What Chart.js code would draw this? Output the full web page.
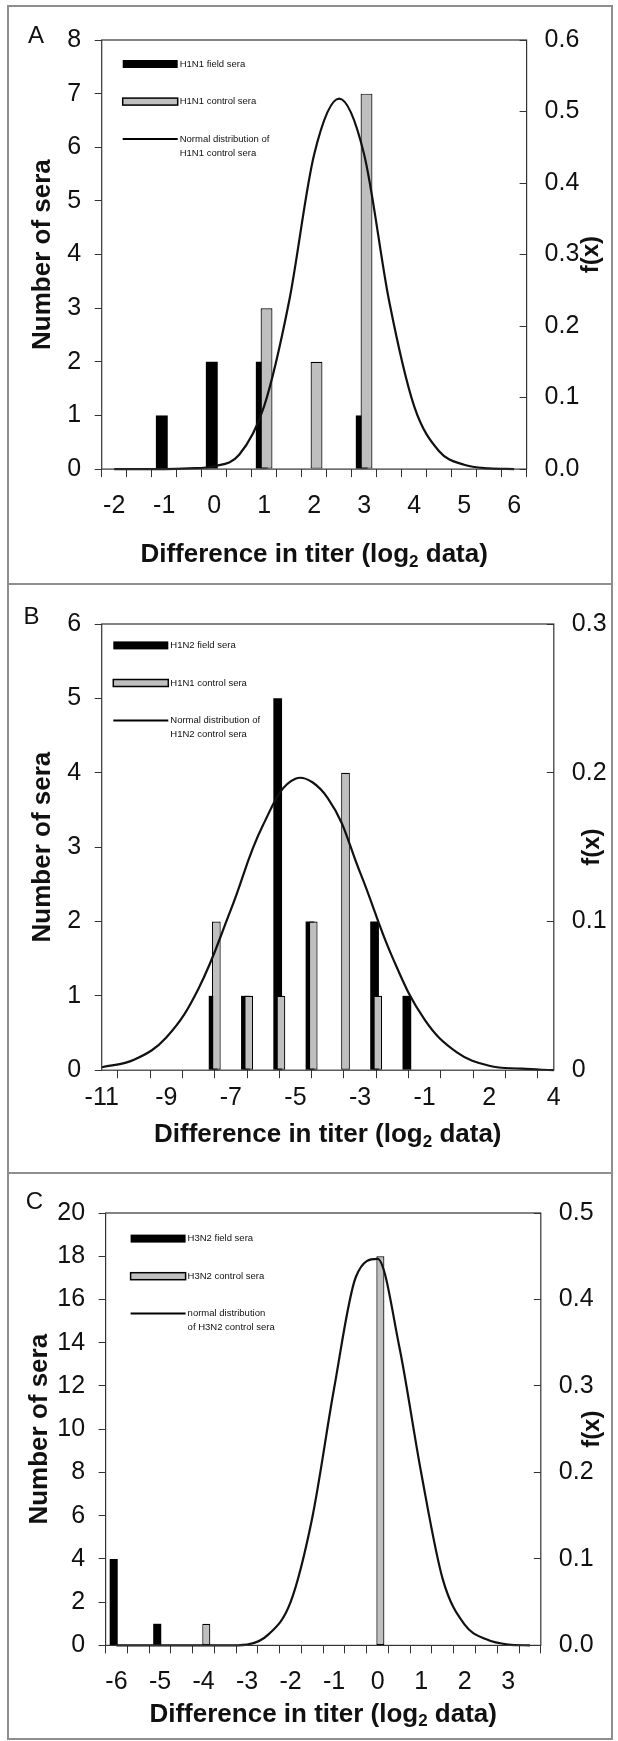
<!DOCTYPE html>
<html>
<head>
<meta charset="utf-8">
<title>Difference in titer (log2 data)</title>
<script src="https://cdn.jsdelivr.net/npm/chart.js@4.4.1/dist/chart.umd.min.js"></script>
<style>
  html, body { margin: 0; padding: 0; background: #fff; }
  #page { position: relative; width: 618px; height: 1741px; overflow: hidden; }
  .panel { position: absolute; left: 0; width: 618px; }
  .rule { position: absolute; background: #8e8e8e; }
</style>
</head>
<body>
<div id="page">
  <div class="panel" style="top:0;height:584px"><canvas id="chartA"></canvas></div>
  <div class="panel" style="top:584px;height:589px"><canvas id="chartB"></canvas></div>
  <div class="panel" style="top:1173px;height:568px"><canvas id="chartC"></canvas></div>
  <div class="rule" style="left:7px;top:5px;width:2px;height:1735px"></div>
  <div class="rule" style="left:611px;top:5px;width:2px;height:1735px"></div>
  <div class="rule" style="left:7px;top:5px;width:606px;height:2px"></div>
  <div class="rule" style="left:7px;top:583px;width:606px;height:2px"></div>
  <div class="rule" style="left:7px;top:1172px;width:606px;height:2px"></div>
  <div class="rule" style="left:7px;top:1738px;width:606px;height:2px"></div>
</div>
<script>
const FONT = '"Liberation Sans", Arial, sans-serif';
Chart.defaults.font.family = FONT;
Chart.defaults.color = '#111';
Chart.defaults.animation = false;

// Panel A - H1N1
const titerA = ['-2','-1.5','-1','-0.5','0','0.5','1','1.5','2','2.5','3','3.5','4','4.5','5','5.5','6'];
const fieldA   = [0, 0, 1, 0, 2, 0, 2, 0, 0, 0, 1, 0, 0, 0, 0, 0, 0];
const controlA = [0, 0, 0, 0, 0, 0, 3, 0, 2, 0, 7, 0, 0, 0, 0, 0, 0];
const normalA  = [0, 0, 0, 0.001, 0.004, 0.02, 0.088, 0.235, 0.44, 0.518, 0.44, 0.235, 0.088, 0.025, 0.006, 0.001, 0];
const legendA  = ['H1N1 field sera', 'H1N1 control sera', ['Normal distribution of', 'H1N1 control sera']];

// Panel B - H1N2: curve on the tick marks, bars in the bins between them
const titerB   = ['-11','-10','-9','-8','-7','-6','-5','-4','-3','-2','-1','1','2','3','4'];
const normalB  = [0.002, 0.007, 0.022, 0.055, 0.108, 0.165, 0.196, 0.183, 0.133, 0.076, 0.034, 0.012, 0.003, 0.001, 0];
const fieldB   = [0, 0, 0, 1, 1, 5, 2, 0, 2, 1, 0, 0, 0, 0];
const controlB = [0, 0, 0, 2, 1, 1, 2, 4, 1, 0, 0, 0, 0, 0];
const legendB  = ['H1N2 field sera', 'H1N1 control sera', ['Normal distribution of', 'H1N2 control sera']];

// Panel C - H3N2
const titerC   = ['-6','-5.5','-5','-4.5','-4','-3.5','-3','-2.5','-2','-1.5','-1','-0.5','0','0.5','1','1.5','2','2.5','3','3.5'];
const fieldC   = [4, 0, 1, 0, 0, 0, 0, 0, 0, 0, 0, 0, 0, 0, 0, 0, 0, 0, 0, 0];
const controlC = [0, 0, 0, 0, 1, 0, 0, 0, 0, 0, 0, 0, 18, 0, 0, 0, 0, 0, 0, 0];
const normalC  = [0, 0, 0, 0, 0, 0, 0.001, 0.013, 0.05, 0.148, 0.297, 0.426, 0.447, 0.345, 0.2, 0.076, 0.024, 0.007, 0.001, 0];
const legendC  = ['H3N2 field sera', 'H3N2 control sera', ['normal distribution', 'of H3N2 control sera']];

const GRAY = '#bfbfbf';
const AXIS = '#333';

// per panel decorations drawn on top (letter, f(x), x title, legend, frame)
const decor = {
  chartA: { letter: 'A', letterX: 36, letterY: 36, fxX: 591, titleY: 555, legend: legendA, lx: 21, ly: 24 },
  chartB: { letter: 'B', letterX: 31.5, letterY: 33, fxX: 592, titleY: 551, legend: legendB, lx: 11.6, ly: 21.4 },
  chartC: { letter: 'C', letterX: 34.5, letterY: 29.6, fxX: 592, titleY: 541.6, legend: legendC, lx: 25, ly: 25.6 }
};

// draw datasets in array order: black bars, gray bars over them, curve on top
const drawOrder = {
  id: 'drawOrder',
  beforeDatasetsDraw(chart) {
    chart.data.datasets.forEach((ds, i) => {
      const meta = chart.getDatasetMeta(i);
      if (!meta.hidden) meta.controller.draw();
    });
    return false;
  }
};

function drawXTitle(ctx, cx, y) {
  const big = `bold 26px ${FONT}`, small = `bold 17px ${FONT}`;
  const p1 = 'Difference in titer (log', p2 = '2', p3 = ' data)';
  ctx.font = big;
  const w1 = ctx.measureText(p1).width, w3 = ctx.measureText(p3).width;
  ctx.font = small;
  const w2 = ctx.measureText(p2).width;
  let x = cx - (w1 + w2 + w3) / 2;
  ctx.textAlign = 'left';
  ctx.textBaseline = 'middle';
  ctx.font = big; ctx.fillText(p1, x, y); x += w1;
  ctx.font = small; ctx.fillText(p2, x, y + 7); x += w2;
  ctx.font = big; ctx.fillText(p3, x, y);
}

const panelDecor = {
  id: 'panelDecor',
  afterDraw(chart) {
    const d = decor[chart.canvas.id];
    const { ctx, chartArea: a } = chart;
    ctx.save();
    ctx.strokeStyle = AXIS;
    ctx.lineWidth = 1.2;
    ctx.strokeRect(a.left, a.top, a.width, a.height);

    ctx.fillStyle = '#111';
    ctx.textAlign = 'center';
    ctx.textBaseline = 'middle';
    ctx.font = `24px ${FONT}`;
    ctx.fillText(d.letter, d.letterX, d.letterY);

    drawXTitle(ctx, (a.left + a.right) / 2, d.titleY);

    ctx.save();
    ctx.translate(d.fxX, (a.top + a.bottom) / 2);
    ctx.rotate(-Math.PI / 2);
    ctx.textAlign = 'center';
    ctx.font = `bold 24px ${FONT}`;
    ctx.fillText('f(x)', 0, 0);
    ctx.restore();

    // legend inside the plot
    const x0 = a.left + d.lx, y0 = a.top + d.ly, w = 55;
    ctx.fillStyle = '#000';
    ctx.fillRect(x0, y0 - 4, w, 8);
    ctx.fillStyle = GRAY;
    ctx.fillRect(x0, y0 + 37.6 - 3.5, w, 7);
    ctx.strokeStyle = '#000';
    ctx.lineWidth = 1.5;
    ctx.strokeRect(x0, y0 + 37.6 - 3.5, w, 7);
    ctx.lineWidth = 2;
    ctx.beginPath();
    ctx.moveTo(x0, y0 + 75);
    ctx.lineTo(x0 + w, y0 + 75);
    ctx.stroke();

    ctx.fillStyle = '#111';
    ctx.font = `9.5px ${FONT}`;
    ctx.textAlign = 'left';
    ctx.fillText(d.legend[0], x0 + w + 2, y0);
    ctx.fillText(d.legend[1], x0 + w + 2, y0 + 37.6);
    ctx.fillText(d.legend[2][0], x0 + w + 2, y0 + 75);
    ctx.fillText(d.legend[2][1], x0 + w + 2, y0 + 89);
    ctx.restore();
  }
};

function leftAxis(max, step, width, titlePad) {
  return {
    position: 'left', min: 0, max: max,
    ticks: { stepSize: step, padding: 13.5, font: { size: 25 } },
    grid: { drawOnChartArea: false, tickLength: 7, color: AXIS },
    border: { display: false },
    title: { display: true, text: 'Number of sera', font: { size: 26, weight: 'bold' }, padding: { top: titlePad, bottom: 0 } },
    afterFit(scale) { scale.width = width; }
  };
}

function rightAxis(max, width, pad, fmt) {
  return {
    position: 'right', min: 0, max: max,
    ticks: { stepSize: 0.1, padding: pad, font: { size: 25 }, callback: fmt },
    grid: { drawOnChartArea: false, tickLength: -7, color: AXIS },
    border: { display: false },
    afterFit(scale) { scale.width = width; }
  };
}

function bottomAxis(labels, height, pad) {
  return {
    type: 'category', labels: labels, offset: true,
    grid: { offset: true, drawOnChartArea: false, tickLength: 8, color: AXIS },
    border: { display: false },
    ticks: {
      autoSkip: false, maxRotation: 0, minRotation: 0, padding: pad, font: { size: 25 },
      callback(value, index) { return index % 2 === 0 ? this.getLabelForValue(value) : ''; }
    },
    afterFit(scale) { scale.height = height; }
  };
}

function datasets(field, control, normal, cat, bar, curve) {
  return [
    { label: 'field sera', data: field, yAxisID: 'y', backgroundColor: '#000',
      borderWidth: 0, categoryPercentage: cat, barPercentage: bar },
    { label: 'control sera', data: control, yAxisID: 'y', backgroundColor: GRAY,
      borderColor: '#000', borderWidth: 1.2, borderSkipped: false, categoryPercentage: cat, barPercentage: bar },
    Object.assign({ type: 'line', label: 'normal distribution', data: normal, yAxisID: 'y1',
      borderColor: '#111', borderWidth: 2.2, pointRadius: 0, fill: false }, curve)
  ];
}

const baseOptions = (top, scales) => ({
  responsive: true,
  maintainAspectRatio: false,
  layout: { padding: { top: top, left: 0, right: 0, bottom: 0 } },
  plugins: { legend: { display: false }, tooltip: { enabled: false } },
  scales: scales
});

new Chart(document.getElementById('chartA'), {
  type: 'bar',
  data: { labels: titerA, datasets: datasets(fieldA, controlA, normalA, 0.38, 2.5, { cubicInterpolationMode: 'monotone' }) },
  options: baseOptions(37, {
    x: bottomAxis(titerA, 114.9, 14),
    y: leftAxis(8, 1, 101.7, 26.8),
    y1: rightAxis(0.6, 91.4, 25, v => Number(v).toFixed(1))
  }),
  plugins: [drawOrder, panelDecor]
});

// panel B: x is the position along the tick marks (tick i carries titerB[i]); bar bins sit between ticks
const binPoints = arr => arr.map((v, i) => ({ x: i + 0.5, y: v }));
const tickPoints = arr => arr.map((v, i) => ({ x: i, y: v }));

new Chart(document.getElementById('chartB'), {
  type: 'bar',
  data: { datasets: datasets(binPoints(fieldB), binPoints(controlB), tickPoints(normalB), 0.2, 2.7, { tension: 0.4 }) },
  options: baseOptions(33, {
    x: {
      type: 'linear', min: 0, max: titerB.length - 1, offset: false,
      grid: { drawOnChartArea: false, tickLength: 8, color: AXIS },
      border: { display: false },
      ticks: {
        stepSize: 1, autoSkip: false, maxRotation: 0, minRotation: 0, padding: 5, font: { size: 25 },
        callback: v => (v % 2 === 0 ? titerB[v] : '')
      },
      afterFit(scale) { scale.height = 102.8; }
    },
    y: leftAxis(6, 1, 101.7, 26.8),
    y1: rightAxis(0.3, 64.2, 25, v => (v === 0 ? '0' : Number(v).toFixed(1)))
  }),
  plugins: [drawOrder, panelDecor]
});

new Chart(document.getElementById('chartC'), {
  type: 'bar',
  data: { labels: titerC, datasets: datasets(fieldC, controlC, normalC, 0.51, 1.45, { cubicInterpolationMode: 'monotone' }) },
  options: baseOptions(25.9, {
    x: bottomAxis(titerC, 95.6, 14),
    y: leftAxis(20, 2, 105.6, 24.4),
    y1: rightAxis(0.5, 77.2, 25, v => Number(v).toFixed(1))
  }),
  plugins: [drawOrder, panelDecor]
});
</script>
</body>
</html>
